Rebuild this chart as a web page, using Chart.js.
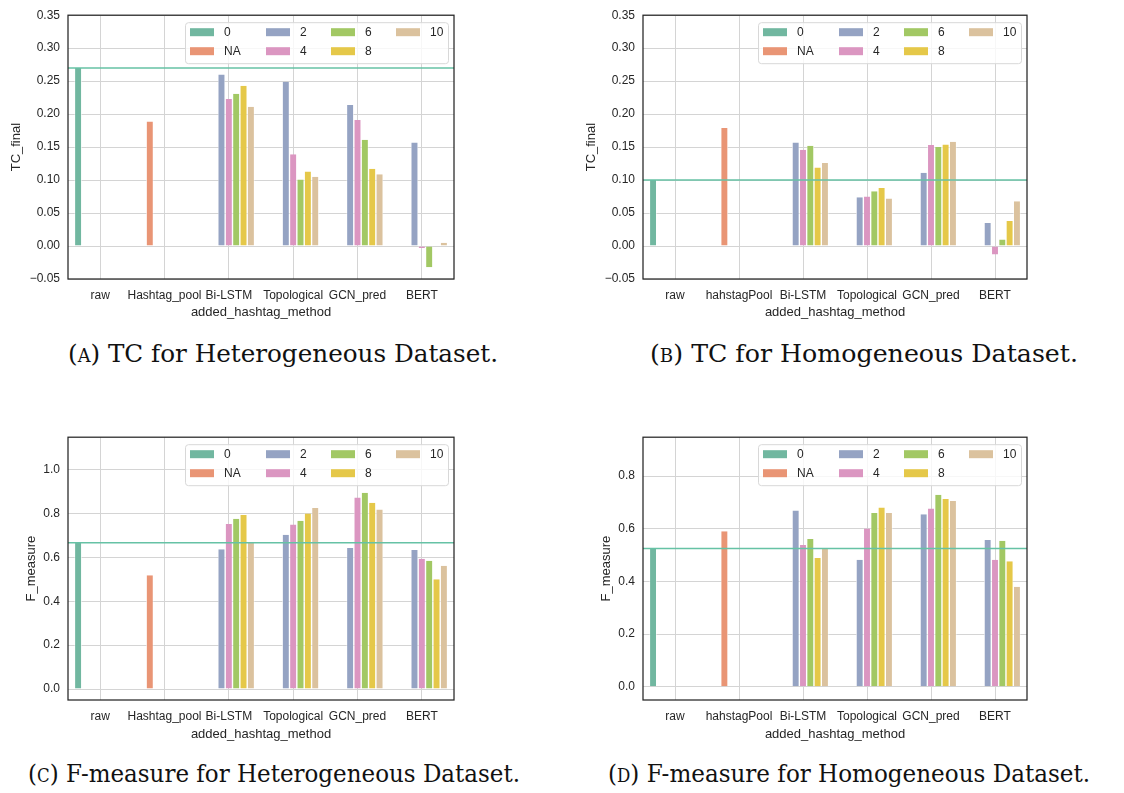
<!DOCTYPE html>
<html lang="en">
<head>
<meta charset="UTF-8">
<title>TC and F-measure by added hashtag method</title>
<script src="https://cdn.jsdelivr.net/npm/chart.js"></script>
<style>
    body {
        margin: 0;
        background: #fff;
        font-family: "Liberation Sans", Arial, sans-serif;
    }
    #page {
        position: relative;
        width: 1124px;
        height: 793px;
        overflow: hidden;
    }
    .panel {
        position: absolute;
        width: 470px;
        height: 330px;
    }
    .cap {
        position: absolute;
        font-family: "DejaVu Serif", serif;
        font-size: 25px;
        line-height: 25px;
        color: #111;
        white-space: nowrap;
        transform-origin: left center;
    }
    .sc { font-variant: small-caps; }
</style>
</head>
<body>
<div id="page">
    <div class="panel" style="left:0;top:0"><canvas id="tcHet"></canvas></div>
    <div class="panel" style="left:575px;top:0"><canvas id="tcHom"></canvas></div>
    <div class="panel" style="left:0;top:422px"><canvas id="fHet"></canvas></div>
    <div class="panel" style="left:575px;top:422px"><canvas id="fHom"></canvas></div>

    <div class="cap" data-w="430" style="left:68px;top:341px">(<span class="sc">a</span>) TC for Heterogeneous Dataset.</div>
    <div class="cap" data-w="428" style="left:650px;top:341px">(<span class="sc">b</span>) TC for Homogeneous Dataset.</div>
    <div class="cap" data-w="492" style="left:28px;top:761px">(<span class="sc">c</span>) F-measure for Heterogeneous Dataset.</div>
    <div class="cap" data-w="482" style="left:608px;top:761px">(<span class="sc">d</span>) F-measure for Homogeneous Dataset.</div>
</div>

<script>
// categories on the x axis
const methodsHet = ['raw', 'Hashtag_pool', 'Bi-LSTM', 'Topological', 'GCN_pred', 'BERT'];
const methodsHom = ['raw', 'hahstagPool', 'Bi-LSTM', 'Topological', 'GCN_pred', 'BERT'];

// hue levels (number of added hashtags) and their colours
const hueLevels = ['0', 'NA', '2', '4', '6', '8', '10'];
const hueColors = ['#71b7a0', '#e99575', '#95a3c3', '#db96c1', '#a2c864', '#e5c849', '#dbc29e'];

// rows follow hueLevels, columns follow the methods
const tcHetValues = [
    [0.270, null, null, null, null, null],
    [null, 0.189, null, null, null, null],
    [null, null, 0.260, 0.249, 0.214, 0.157],
    [null, null, 0.223, 0.139, 0.191, -0.003],
    [null, null, 0.231, 0.101, 0.161, -0.032],
    [null, null, 0.243, 0.113, 0.117, 0.000],
    [null, null, 0.211, 0.105, 0.109, 0.005]
];
const tcHomValues = [
    [0.100, null, null, null, null, null],
    [null, 0.179, null, null, null, null],
    [null, null, 0.157, 0.074, 0.111, 0.035],
    [null, null, 0.146, 0.075, 0.153, -0.013],
    [null, null, 0.152, 0.083, 0.150, 0.010],
    [null, null, 0.119, 0.088, 0.154, 0.038],
    [null, null, 0.126, 0.072, 0.158, 0.068]
];
const fHetValues = [
    [0.666, null, null, null, null, null],
    [null, 0.518, null, null, null, null],
    [null, null, 0.637, 0.703, 0.642, 0.633],
    [null, null, 0.752, 0.749, 0.872, 0.593],
    [null, null, 0.776, 0.766, 0.894, 0.584],
    [null, null, 0.793, 0.799, 0.849, 0.500],
    [null, null, 0.666, 0.824, 0.818, 0.561]
];
const fHomValues = [
    [0.525, null, null, null, null, null],
    [null, 0.591, null, null, null, null],
    [null, null, 0.670, 0.483, 0.655, 0.558],
    [null, null, 0.539, 0.601, 0.677, 0.483],
    [null, null, 0.561, 0.660, 0.729, 0.555],
    [null, null, 0.489, 0.681, 0.713, 0.477],
    [null, null, 0.525, 0.660, 0.706, 0.380]
];

// horizontal reference lines (the raw baseline)
const tcHetRef = 0.270;
const tcHomRef = 0.100;
const fHetRef = 0.666;
const fHomRef = 0.525;

// y tick labels
const tcTicks = [-0.05, 0, 0.05, 0.10, 0.15, 0.20, 0.25, 0.30, 0.35];
const fHetTicks = [0, 0.2, 0.4, 0.6, 0.8, 1.0];
const fHomTicks = [0, 0.2, 0.4, 0.6, 0.8];

const TEXT = '#262626';
const GRID = '#d4d4d4';

// squeeze the captions to the width they have in the paper
document.querySelectorAll('.cap').forEach(el => {
    const w = el.getBoundingClientRect().width;
    el.style.transform = 'scaleX(' + (el.dataset.w / w) + ')';
});

// reference line, legend box and frame
const panelDecor = {
    id: 'panelDecor',
    afterDatasetsDraw(chart, args, opts) {
        const {ctx, chartArea: a, scales} = chart;
        ctx.save();

        const y = scales.y.getPixelForValue(opts.ref);
        ctx.strokeStyle = '#66c2a5';
        ctx.lineWidth = 1.5;
        ctx.beginPath();
        ctx.moveTo(a.left, y);
        ctx.lineTo(a.right, y);
        ctx.stroke();

        // legend: 4 columns, 2 rows, filled column by column
        const bw = 263, bh = 41;
        const bx = a.right - 6 - bw, by = a.top + 7;
        ctx.fillStyle = 'rgba(255,255,255,0.8)';
        ctx.strokeStyle = '#d8d8d8';
        ctx.lineWidth = 1;
        ctx.beginPath();
        ctx.roundRect(bx + 0.5, by + 0.5, bw, bh, 3);
        ctx.fill();
        ctx.stroke();
        const colX = [5, 81, 146, 211];
        const rowY = [10, 29];
        ctx.font = '12px "Liberation Sans", Arial, sans-serif';
        ctx.textBaseline = 'middle';
        chart.data.datasets.forEach((ds, i) => {
            const cx = bx + colX[Math.floor(i / 2)];
            const cy = by + rowY[i % 2];
            ctx.fillStyle = ds.backgroundColor;
            ctx.fillRect(cx, cy - 4, 24, 8);
            ctx.fillStyle = TEXT;
            ctx.fillText(ds.label, cx + 34, cy);
        });

        ctx.strokeStyle = TEXT;
        ctx.lineWidth = 1.25;
        ctx.strokeRect(a.left, a.top, a.right - a.left, a.bottom - a.top);
        ctx.restore();
    }
};

function makeChart(id, labels, values, ref, ticks, yMin, yMax, decimals, yTitle, rightPad, xHeight, yTitlePad) {
    const datasets = hueLevels.map((h, i) => ({
        label: h,
        data: values[i],
        backgroundColor: hueColors[i],
        borderColor: '#ffffff',
        borderWidth: {left: 0.7, right: 0.7, top: 0, bottom: 0},
        borderSkipped: false,
        categoryPercentage: 0.8,
        barPercentage: 1.0
    }));

    return new Chart(document.getElementById(id), {
        type: 'bar',
        data: {labels: labels, datasets: datasets},
        plugins: [panelDecor],
        options: {
            responsive: true,
            maintainAspectRatio: false,
            animation: false,
            layout: {padding: {top: 10, right: rightPad, left: 0, bottom: 0}},
            plugins: {
                legend: {display: false},
                tooltip: {enabled: false},
                panelDecor: {ref: ref}
            },
            scales: {
                x: {
                    offset: true,
                    grid: {offset: false, color: GRID, drawTicks: false},
                    border: {display: false},
                    ticks: {color: TEXT, font: {size: 12}, padding: 9, maxRotation: 0, autoSkip: false},
                    title: {display: true, text: 'added_hashtag_method', color: TEXT,
                            font: {size: 13}, padding: {top: 0, bottom: 9.5}},
                    afterFit(scale) { scale.height = xHeight; }
                },
                y: {
                    min: yMin,
                    max: yMax,
                    grid: {color: GRID, drawTicks: false},
                    border: {display: false},
                    afterBuildTicks(scale) { scale.ticks = ticks.map(v => ({value: v})); },
                    ticks: {
                        color: TEXT,
                        font: {size: 12},
                        padding: 8,
                        callback: v => v.toFixed(decimals).replace('-', '\u2212')
                    },
                    title: {display: true, text: yTitle, color: TEXT,
                            font: {size: 13}, padding: {top: yTitlePad, bottom: 0}},
                    afterFit(scale) { scale.width = 68; }
                }
            }
        }
    });
}

Chart.defaults.font.family = '"Liberation Sans", Arial, sans-serif';

makeChart('tcHet', methodsHet, tcHetValues, tcHetRef, tcTicks, -0.05, 0.35, 2, 'TC_final', 16, 51, 9);
makeChart('tcHom', methodsHom, tcHomValues, tcHomRef, tcTicks, -0.05, 0.35, 2, 'TC_final', 18, 51, 9);
makeChart('fHet', methodsHet, fHetValues, fHetRef, fHetTicks, -0.05, 1.147, 1, 'F_measure', 16, 52, 24);
makeChart('fHom', methodsHom, fHomValues, fHomRef, fHomTicks, -0.05, 0.948, 1, 'F_measure', 18, 52, 24);
</script>
</body>
</html>
